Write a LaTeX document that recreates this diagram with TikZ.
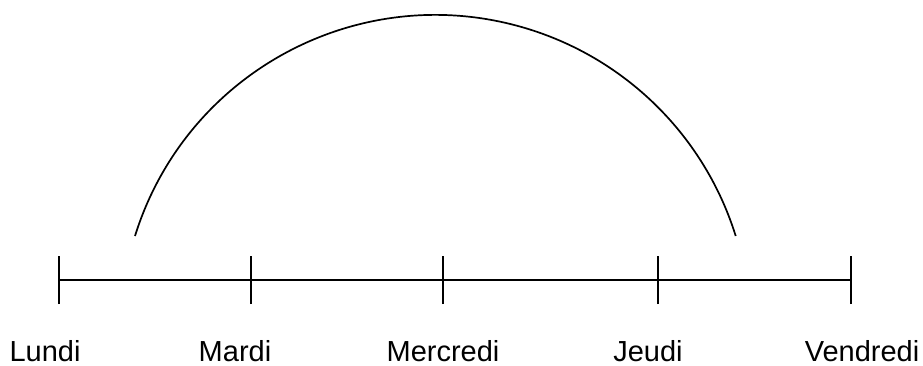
\documentclass[tikz,border=0pt]{standalone}
\usepackage{fontspec}
\setmainfont{Liberation Sans}
\usetikzlibrary{positioning}
\tikzset{day/.style={anchor=base,inner sep=0pt,font=\fontsize{29}{34}\selectfont},
  tick/.style={line width=2pt},
  axisline/.style={line width=2pt},
  curve/.style={line width=1.7pt}}

\begin{document}
\begin{tikzpicture}[x=1pt,y=1pt]
\useasboundingbox (0,0) rectangle (923,365);
% ticks on the axis
\foreach \name/\x in {lu/58.5,ma/250.5,me/442.5,je/658,ve/851}{
  \coordinate (\name) at (\x,85.5);
  \draw[tick] (\x,61) -- (\x,109);
}
\draw[axisline] (lu) -- (ve);
% day labels
\node[day] (lundi) at (45,4) {Lundi};
\node[day] (mardi) at (235,4) {Mardi};
\node[day] (mercredi) at (443,4) {Mercredi};
\node[day] (jeudi) at (648,4) {Jeudi};
\node[day] (vendredi) at (862,4) {Vendredi};
% the arc above
\coordinate (arcL) at (135,129);
\draw[curve] (arcL) arc[start angle=162.7,end angle=17.3,radius=314.6];
\end{tikzpicture}
\end{document}
